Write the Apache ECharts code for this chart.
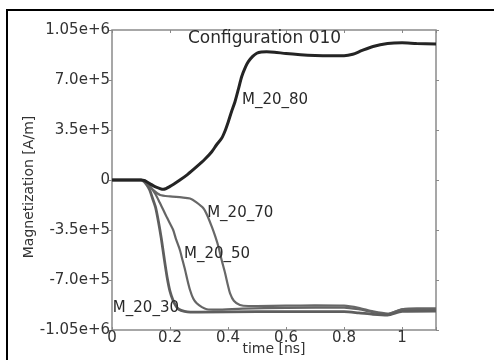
<!DOCTYPE html>
<html><head><meta charset="utf-8">
<script src="https://cdn.jsdelivr.net/npm/echarts@6/dist/echarts.min.js"></script>
<style>html,body{margin:0;padding:0;background:#fff}#c{width:494px;height:360px}</style>
</head><body><div id="c"></div>
<script>
// Data (time in ns, magnetization in kA/m -> scaled to A/m below)
const t80 = [0,0.05,0.10,0.11,0.13,0.15,0.177,0.20,0.234,0.26,0.292,0.32,0.344,0.36,0.378,0.39,0.401,0.412,0.424,0.436,0.447,0.46,0.47,0.485,0.499,0.515,0.533,0.56,0.60,0.65,0.70,0.75,0.80,0.83,0.86,0.90,0.95,1.00,1.05,1.117];
const m80 = [0,0,0,-3,-25,-48,-65,-45,0,38,93,145,198,245,292,345,408,478,548,638,723,790,828,865,887,896,898,895,885,877,872,870,870,880,905,935,955,960,955,952];
const t70 = [0,0.10,0.108,0.125,0.142,0.166,0.20,0.24,0.269,0.29,0.315,0.33,0.344,0.356,0.367,0.378,0.39,0.40,0.407,0.42,0.441,0.47,0.50,0.60,0.70,0.80,0.85,0.90,0.95,1.00,1.05,1.117];
const m70 = [0,0,0,-35,-70,-105,-115,-122,-130,-155,-198,-255,-327,-395,-467,-560,-653,-740,-793,-845,-875,-882,-882,-880,-878,-880,-895,-920,-935,-905,-898,-898];
const t50 = [0,0.11,0.13,0.15,0.165,0.177,0.19,0.20,0.211,0.22,0.234,0.243,0.252,0.26,0.269,0.28,0.292,0.31,0.327,0.36,0.45,0.60,0.80,0.85,0.90,0.95,1.00,1.117];
const m50 = [0,0,-40,-100,-160,-210,-265,-305,-350,-410,-490,-560,-630,-700,-770,-830,-863,-890,-905,-908,-900,-895,-893,-905,-925,-940,-905,-903];
const t30 = [0,0.10,0.11,0.12,0.13,0.14,0.15,0.16,0.17,0.18,0.19,0.20,0.21,0.22,0.23,0.25,0.27,0.30,0.50,0.80,0.85,0.90,0.95,1.00,1.117];
const m30 = [0,0,-10,-35,-70,-130,-190,-290,-410,-550,-680,-780,-840,-880,-905,-920,-925,-925,-922,-922,-930,-940,-945,-920,-918];

const seriesNames = ['M_20_80','M_20_70','M_20_50','M_20_30'];
const labelPos = [[0.448,560000],[0.328,-231000],[0.248,-518000],[0.003,-896000]];
const xTickLabels = ['0','0.2','0.4','0.6','0.8','1'];
const yTickLabels = ['-1.05e+6','-7.0e+5','-3.5e+5','0','3.5e+5','7.0e+5','1.05e+6'];
const titleText = 'Configuration 010';
const xName = 'time [ns]';
const yName = 'Magnetization [A/m]';

const XMIN=0, XMAX=1.117, XINT=0.2;
const YMIN=-1050000, YMAX=1050000, YINT=350000;
const FONT = 'DejaVu Sans';

function zip(a,b){return a.map((v,i)=>[v,b[i]*1000]);}
const lines = [zip(t80,m80), zip(t70,m70), zip(t50,m50), zip(t30,m30)];
const colors = ['#242424','#686868','#656565','#5e5e5e'];
const widths = [3,2.2,2.2,2.8];

const chart = echarts.init(document.getElementById('c'));
chart.setOption({
  animation:false,
  backgroundColor:'#fff',
  title:{text:titleText,left:183,top:25,textStyle:{fontFamily:FONT,fontSize:17,fontWeight:'normal',color:'#2a2a2a'}},
  grid:{left:112,top:30,right:58,bottom:30,outerBoundsMode:'none',containLabel:false,show:true,borderColor:'#8a8a8a',borderWidth:1.5,backgroundColor:'transparent'},
  graphic:[{type:'rect',shape:{x:7,y:10,width:520,height:400},style:{fill:'none',stroke:'#000',lineWidth:2},silent:true,z:100}],
  xAxis:[{type:'value',min:XMIN,max:XMAX,interval:XINT,
    name:xName,nameLocation:'middle',nameGap:12,nameMoveOverlap:false,
    nameTextStyle:{fontFamily:FONT,fontSize:14,color:'#333'},
    axisLine:{show:false,onZero:false},splitLine:{show:false},
    axisTick:{show:true,inside:true,length:3,lineStyle:{color:'#888'}},
    axisLabel:{margin:1,fontFamily:FONT,fontSize:15,color:'#333',showMaxLabel:true,
      formatter:v=>{const i=Math.round((v-XMIN)/XINT);return Math.abs(v-(XMIN+i*XINT))<1e-6&&xTickLabels[i]!==undefined?xTickLabels[i]:'';}}},
   {type:'value',position:'top',min:XMIN,max:XMAX,interval:XINT,axisLine:{show:false,onZero:false},splitLine:{show:false},
    axisTick:{show:true,inside:true,length:3,lineStyle:{color:'#888'}},axisLabel:{show:false}}],
  yAxis:[{type:'value',min:YMIN,max:YMAX,interval:YINT,
    name:yName,nameLocation:'middle',nameGap:76,nameRotate:90,nameMoveOverlap:false,
    nameTextStyle:{fontFamily:FONT,fontSize:14,color:'#333',padding:[0,14,0,0]},
    axisLine:{show:false,onZero:false},splitLine:{show:false},
    axisTick:{show:true,inside:false,length:3,lineStyle:{color:'#888'}},
    axisLabel:{margin:2,fontFamily:FONT,fontSize:15,color:'#333',
      formatter:v=>{const i=Math.round((v-YMIN)/YINT);return yTickLabels[i]||'';}}},
   {type:'value',position:'right',min:YMIN,max:YMAX,interval:YINT,axisLine:{show:false,onZero:false},splitLine:{show:false},
    axisTick:{show:true,inside:false,length:3,lineStyle:{color:'#888'}},axisLabel:{show:false}}],
  series: lines.map((d,k)=>({
    type:'line',name:seriesNames[k],data:d,showSymbol:false,smooth:0.25,
    lineStyle:{color:colors[k],width:widths[k]},z:k===0?5:3,
    markPoint:{symbol:'circle',symbolSize:0,silent:true,
      data:[{coord:labelPos[k],label:{show:true,position:'right',distance:0,formatter:seriesNames[k],
        fontFamily:FONT,fontSize:15,color:'#2a2a2a'}}]}
  }))
});
</script></body></html>
